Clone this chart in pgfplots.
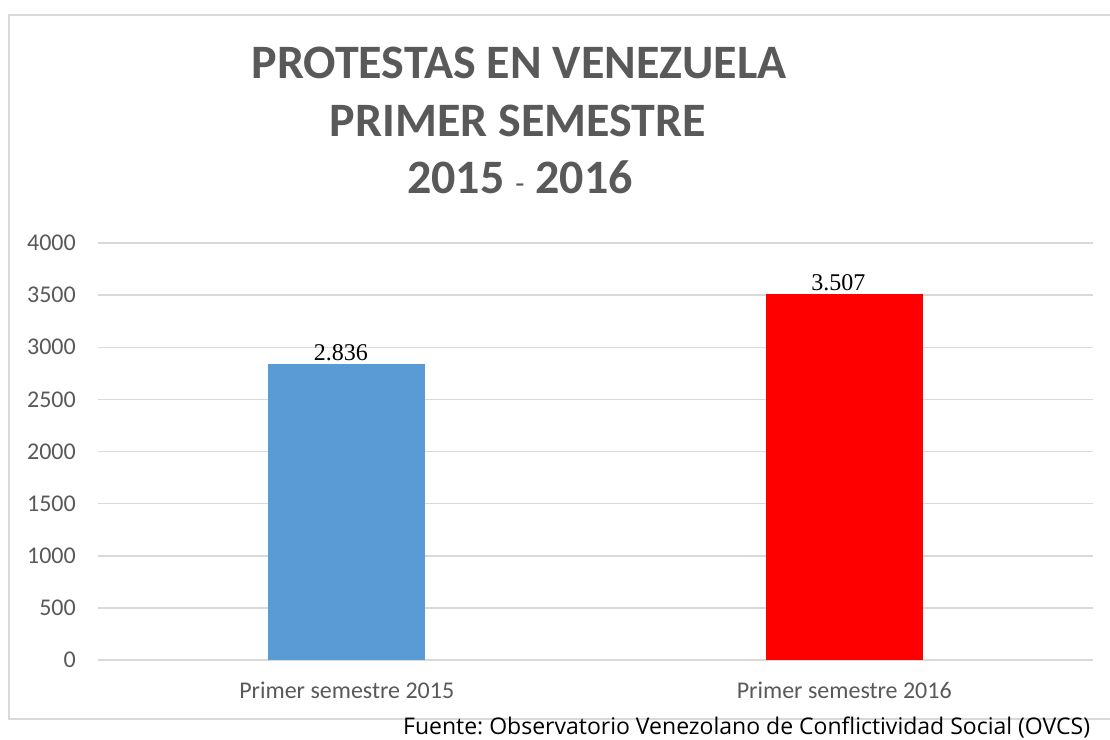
\documentclass[border=0pt]{standalone}
\usepackage{fontspec}
\setmainfont{Carlito}
\newfontfamily\timesf{Liberation Serif}
\newfontfamily\footf{Open Sans}
\usepackage{pgfplots}
\pgfplotsset{compat=1.18}
\definecolor{txtgray}{HTML}{595959}
\definecolor{gridgray}{HTML}{D9D9D9}
\definecolor{barblue}{HTML}{5B9BD5}
\definecolor{barred}{HTML}{FF0000}
\frenchspacing
\begin{document}
\begin{tikzpicture}
\path[use as bounding box] (0,0) rectangle (1110bp,-740bp);
\clip (0,0) rectangle (1110bp,-740bp);
\fill[white] (0,0) rectangle (1110bp,-740bp);
\draw[gridgray, line width=1.5bp] (9bp,-15bp) rectangle (1125bp,-719bp);
\begin{axis}[
 at={(98bp,-660bp)}, anchor=south west,
 scale only axis, width=995bp, height=417bp,
 xmin=-0.5, xmax=1.5, ymin=0, ymax=4000,
 axis line style={draw=none},
 ytick={0,500,...,4000},
 xtick={0,1}, xticklabels={Primer semestre 2015, Primer semestre 2016},
 major tick length=0pt,
 ymajorgrids, grid style={gridgray, line width=1.5bp},
 tick label style={font=\fontsize{24bp}{28bp}\selectfont, text=txtgray, inner sep=0pt},
 yticklabel style={anchor=east, xshift=-22bp},
 xticklabel style={anchor=base, yshift=-38bp},
 /pgf/number format/assume math mode=true,
 /pgf/number format/1000 sep={},
 ybar, bar width=157bp, bar shift=0pt,
 nodes near coords, point meta=explicit symbolic,
 every node near coord/.append style={font=\timesf\fontsize{24bp}{28bp}\selectfont, text=black, anchor=south, inner sep=0pt, yshift=3.5bp, xshift=-6bp},
 clip=false,
]
\addplot[fill=barblue, draw=none] coordinates {(0,2836) [2.836]};
\addplot[fill=barred, draw=none] coordinates {(1,3507) [3.507]};
\end{axis}
\begin{scope}[text=txtgray, font=\bfseries\fontsize{48bp}{52bp}\selectfont]
\node[anchor=base] at (519bp,-78bp) {PROTESTAS EN VENEZUELA};
\node[anchor=base] at (518bp,-136bp) {PRIMER SEMESTRE};
\node[anchor=base] at (520bp,-193bp) {2015 {\mdseries\fontsize{30bp}{30bp}\selectfont -} 2016};
\end{scope}
\node[anchor=base west, font=\footf\fontsize{23bp}{26bp}\selectfont, inner sep=0pt] at (403bp,-734.5bp) {Fuente: Observatorio Venezolano de Conflictividad Social (OVCS)};
\end{tikzpicture}
\end{document}
